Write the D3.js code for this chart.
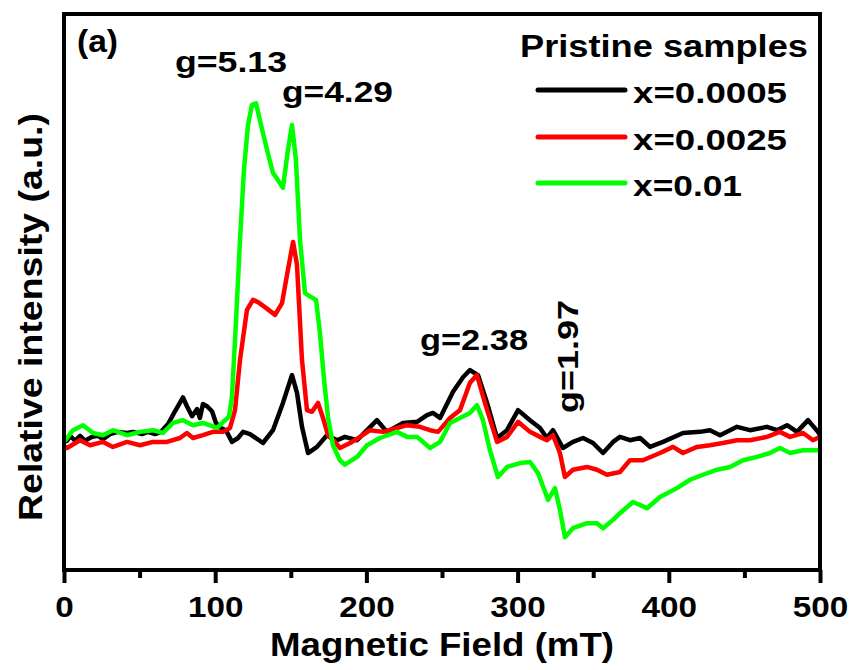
<!DOCTYPE html>
<html>
<head>
<meta charset="utf-8">
<script src="https://cdn.jsdelivr.net/npm/d3@7"></script>
<style>
  html, body { margin: 0; padding: 0; background: #fff; }
  svg { display: block; }
  text { font-family: "Liberation Sans", Arial, sans-serif; font-weight: bold; fill: #000; }
</style>
</head>
<body>
<svg id="chart" width="853" height="670"></svg>
<script>
// ---------- data (magnetic field in mT, relative intensity in a.u.) ----------
const fieldBlack = [0,2,4,7.3,10.6,13.9,18.5,22.5,25.8,30.4,35.7,41.7,45.6,51.6,55.6,60.2,64.2,68.8,73.4,78.7,81.3,84.7,88,89.9,91.9,94.6,97.9,100.5,103.8,107.1,111.1,115.1,118.4,123,131.6,138.2,144.8,150.8,154.1,157.4,161.4,167.3,173.9,180.6,185.8,193.8,200.4,207,213.6,224.2,233.5,240.1,244,248.7,257.3,263.9,268.5,273.8,279.8,286.4,293,300.3,308.2,314.8,319.4,323.4,330,336.6,343.3,349.9,356.5,363.1,367.7,374.3,381,387.6,396.2,409.4,420.6,427.2,433.9,445.1,453.7,464.9,471.6,478.2,484.8,492.1,498.7,500];
const intBlack   = [23.0,23.2,24.1,23.2,24.1,23.2,23.9,24.1,23.5,24.4,24.8,24.6,24.8,24.4,24.8,24.4,24.8,26.2,28.5,31.0,29.4,27.6,28.9,27.3,29.8,29.4,28.5,26.4,25.5,25.1,23.0,23.7,24.8,24.4,22.8,25.1,30.0,35.0,31.8,25.7,21.0,22.1,24.2,23.3,23.9,23.3,25.1,26.9,24.8,26.4,26.6,27.8,28.2,27.3,32.0,34.6,35.9,35.0,30.0,23.7,25.1,28.7,26.9,25.5,23.7,25.1,21.9,23.0,23.7,22.8,21.0,23.0,23.9,23.3,23.7,22.1,23.0,24.6,24.8,25.1,24.2,25.7,25.1,25.7,25.1,26.0,24.8,26.9,24.8,24.2];

const fieldRed = [0,2,10.6,17.2,25.8,32.4,41.7,50.3,58.9,68.1,76.7,81.3,85.3,91.9,98.5,105.2,109.8,113.1,116.4,121,125,128.3,132.9,139.6,144.2,147.5,151.5,154.1,157.4,160.7,164,168,171.3,174.6,179.2,182.5,189.2,195.8,202.4,211,220.2,226.9,235.4,242.1,247.4,255.3,261.9,268.5,273.1,278.4,286.4,293,300.3,308.2,314.8,319.4,323.4,328,331.3,336.6,345.9,352.5,359.1,367.7,374.3,382.9,394.2,402.8,409.4,418.7,427.2,435.8,445.1,453.7,464.9,473.5,480.2,488.8,495.4,500];
const intRed   = [22.1,21.9,23.3,22.4,23.0,22.1,23.0,22.4,23.0,23.0,23.7,24.6,23.7,24.2,24.8,24.8,25.5,28.7,37.7,46.7,48.5,48.1,47.2,45.8,47.9,53.0,58.9,54.8,37.7,28.7,28.4,30.0,27.3,24.2,23.0,21.9,22.8,23.9,25.1,24.8,25.5,26.0,25.7,25.1,24.8,27.3,28.7,33.6,35.0,30.0,23.0,23.9,26.6,24.8,23.9,23.3,24.2,21.0,16.7,18.0,18.5,18.0,17.1,17.6,19.7,19.7,21.0,22.1,21.0,22.1,22.4,22.8,23.3,23.3,23.9,24.8,23.9,24.6,23.3,23.9];

const fieldGreen = [0,6,12.6,19.2,25.8,32.4,41.7,50.3,58.9,65.5,72.1,78.7,85.3,91.9,101.2,106.5,109.1,111.1,113.8,116.4,119,121.7,124.3,127,130.3,134.3,138.2,142.2,144.8,148.1,150.8,153.4,156.1,159.4,163.4,166.7,169.3,172,174.6,177.9,182.5,185.8,193.8,200.4,209,220.2,226.9,233.5,242.1,248.7,255.3,261.9,268.5,273.1,277.1,281.7,287,293,301.6,308.2,313.5,320.1,324.7,328,331.3,336.6,345.9,352.5,356.5,363.1,367.7,376.3,385.6,394.2,405.4,414,422.6,431.9,440.5,449.1,458.3,466.9,473.5,480.2,488.8,500];
const intGreen   = [23.0,25.1,26.0,24.6,24.2,25.1,24.2,24.8,25.1,24.6,26.4,26.9,26.0,26.4,25.5,26.9,27.5,31.1,44.9,59.2,71.8,79.9,83.5,83.8,79.9,75.4,71.3,69.7,68.6,75.4,79.9,73.6,59.2,49.7,49.0,48.5,42.5,34.1,27.5,22.4,19.7,18.9,20.3,22.4,23.7,24.8,23.9,23.9,21.9,23.0,26.4,27.3,28.2,29.6,26.9,21.5,16.7,18.5,19.2,19.4,17.4,12.6,14.7,10.8,5.9,7.5,8.4,8.4,7.5,9.0,10.2,12.2,11.1,13.1,14.7,16.2,17.1,18.0,18.5,19.7,20.3,21.0,21.9,21.0,21.5,21.5];

const seriesNames = ["x=0.0005", "x=0.0025", "x=0.01"];
const seriesColors = ["#000000", "#ff0000", "#00ff00"];
const majorTicks = [0, 100, 200, 300, 400, 500];
const minorTicks = [50, 150, 250, 350, 450];
const peakLabels = ["g=5.13", "g=4.29", "g=2.38", "g=1.97"];

// ---------- layout ----------
const svg = d3.select("#chart");
const pLeft = 64, pRight = 820, pTop = 14, pBottom = 570;

const x = d3.scaleLinear().domain([0, 500]).range([pLeft, pRight]);
const y = d3.scaleLinear().domain([0, 100]).range([pBottom, 13]);

const series = [
  {name: seriesNames[0], color: seriesColors[0], pts: fieldBlack.map((f, i) => [f, intBlack[i]])},
  {name: seriesNames[1], color: seriesColors[1], pts: fieldRed.map((f, i) => [f, intRed[i]])},
  {name: seriesNames[2], color: seriesColors[2], pts: fieldGreen.map((f, i) => [f, intGreen[i]])}
];

const line = d3.line().x(d => x(d[0])).y(d => y(d[1]));

svg.append("defs").append("clipPath").attr("id", "clip")
  .append("rect").attr("x", pLeft).attr("y", pTop).attr("width", pRight - pLeft).attr("height", pBottom - pTop);

const g = svg.append("g").attr("clip-path", "url(#clip)");
series.forEach(s => {
  g.append("path")
    .datum(s.pts)
    .attr("d", line)
    .attr("fill", "none")
    .attr("stroke", s.color)
    .attr("stroke-width", 4.5)
    .attr("stroke-linejoin", "round")
    .attr("stroke-linecap", "round");
});

// ---------- axes ----------
const xAxis = svg.append("g").attr("transform", `translate(0,${pBottom})`)
  .call(d3.axisBottom(x).tickValues(majorTicks).tickSize(13).tickFormat(d3.format("d")));
xAxis.select(".domain").remove();
xAxis.selectAll(".tick line").attr("stroke", "#000").attr("stroke-width", 4);
xAxis.selectAll(".tick text")
  .attr("y", 47).attr("dy", 0)
  .attr("font-size", 30)
  .attr("font-family", "'Liberation Sans', Arial, sans-serif")
  .attr("font-weight", "bold")
  .attr("fill", "#000")
  .each(function(d) {
    const s = String(d);
    d3.select(this).attr("textLength", s.length * 18.5).attr("lengthAdjust", "spacingAndGlyphs");
  });

const xMinor = svg.append("g").attr("transform", `translate(0,${pBottom})`)
  .call(d3.axisBottom(x).tickValues(minorTicks).tickSize(8).tickFormat(""));
xMinor.select(".domain").remove();
xMinor.selectAll(".tick line").attr("stroke", "#000").attr("stroke-width", 4);

// frame
svg.append("rect")
  .attr("x", pLeft).attr("y", pTop)
  .attr("width", pRight - pLeft).attr("height", pBottom - pTop)
  .attr("fill", "none").attr("stroke", "#000").attr("stroke-width", 4);

// axis titles
svg.append("text")
  .attr("x", (pLeft + pRight) / 2).attr("y", 656)
  .attr("text-anchor", "middle")
  .attr("font-size", 33)
  .attr("textLength", 344).attr("lengthAdjust", "spacingAndGlyphs")
  .text("Magnetic Field (mT)");

svg.append("text")
  .attr("transform", "translate(42,317) rotate(-90)")
  .attr("text-anchor", "middle")
  .attr("font-size", 33)
  .attr("textLength", 408).attr("lengthAdjust", "spacingAndGlyphs")
  .text("Relative intensity (a.u.)");

// panel label
svg.append("text").attr("x", 77).attr("y", 52)
  .attr("font-size", 31).attr("textLength", 41).attr("lengthAdjust", "spacingAndGlyphs")
  .text("(a)");

// peak annotations
svg.append("text").attr("x", 175).attr("y", 72).attr("font-size", 29)
  .attr("textLength", 112).attr("lengthAdjust", "spacingAndGlyphs").text(peakLabels[0]);
svg.append("text").attr("x", 282).attr("y", 102).attr("font-size", 29)
  .attr("textLength", 111).attr("lengthAdjust", "spacingAndGlyphs").text(peakLabels[1]);
svg.append("text").attr("x", 420).attr("y", 350).attr("font-size", 30)
  .attr("textLength", 108).attr("lengthAdjust", "spacingAndGlyphs").text(peakLabels[2]);
svg.append("text").attr("transform", "translate(578,413) rotate(-90)").attr("font-size", 30)
  .attr("textLength", 113).attr("lengthAdjust", "spacingAndGlyphs").text(peakLabels[3]);

// legend
svg.append("text").attr("x", 520).attr("y", 57).attr("font-size", 31)
  .attr("textLength", 288).attr("lengthAdjust", "spacingAndGlyphs").text("Pristine samples");

const legendY = [90, 137, 183];
const legendLen = [154, 154, 109];
series.forEach((s, i) => {
  svg.append("line")
    .attr("x1", 538).attr("x2", 625)
    .attr("y1", legendY[i]).attr("y2", legendY[i])
    .attr("stroke", s.color).attr("stroke-width", 5).attr("stroke-linecap", "round");
  svg.append("text")
    .attr("x", 633).attr("y", legendY[i] + 13)
    .attr("font-size", 30)
    .attr("textLength", legendLen[i]).attr("lengthAdjust", "spacingAndGlyphs")
    .text(s.name);
});
</script>
</body>
</html>
